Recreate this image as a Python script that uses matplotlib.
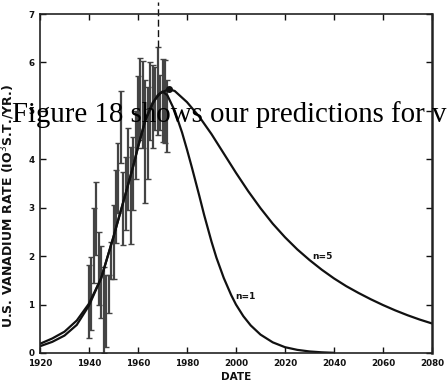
import numpy as np
import matplotlib
matplotlib.use('Agg')
import matplotlib.pyplot as plt

# production history, yearly error bars (low / high, 10^3 short tons per year)
bar_years = [1940, 1941, 1942, 1943, 1944, 1945, 1946, 1947, 1948, 1949,
             1950, 1951, 1952, 1953, 1954, 1955, 1956, 1957, 1958, 1959,
             1960, 1961, 1962, 1963, 1964, 1965, 1966, 1967, 1968, 1969,
             1970, 1971, 1972]
bar_low = [0.30, 0.47, 1.44, 2.02, 0.99, 0.72, 0.00, 0.13, 0.82, 1.53,
           1.52, 2.27, 2.90, 3.92, 2.23, 2.54, 2.95, 2.26, 2.95, 3.60,
           4.23, 4.40, 4.23, 3.10, 3.60, 4.40, 4.23, 4.60, 4.50, 4.60,
           4.36, 4.33, 4.16]
bar_high = [1.82, 1.99, 2.99, 3.54, 2.50, 2.21, 1.78, 1.61, 1.61, 2.30,
            3.06, 3.78, 4.33, 5.40, 3.74, 4.05, 4.64, 4.26, 4.47, 5.00,
            5.72, 6.10, 6.02, 5.64, 5.50, 6.00, 5.95, 5.90, 6.32, 5.75,
            6.08, 6.05, 5.64]

# fitted curves
n1_years = [1920, 1925, 1930, 1935, 1940, 1945, 1950, 1955, 1958, 1960,
            1963, 1966, 1968, 1970, 1972, 1975, 1978, 1980, 1982, 1985,
            1987, 1990, 1992, 1995, 1998, 2000, 2003, 2006, 2010, 2015,
            2020, 2025, 2030, 2035, 2040]
n1_rate = [0.14, 0.23, 0.36, 0.58, 0.98, 1.55, 2.40, 3.30, 3.85, 4.25,
           4.80, 5.15, 5.32, 5.40, 5.32, 5.00, 4.55, 4.20, 3.83, 3.25,
           2.85, 2.30, 1.97, 1.55, 1.20, 1.00, 0.76, 0.57, 0.38, 0.22,
           0.12, 0.065, 0.032, 0.014, 0.004]

n5_years = [1920, 1925, 1930, 1935, 1940, 1945, 1950, 1955, 1958, 1960,
            1963, 1966, 1969, 1972.5, 1975, 1980, 1985, 1990, 1995, 2000,
            2005, 2010, 2015, 2020, 2025, 2030, 2035, 2040, 2045, 2050,
            2055, 2060, 2065, 2070, 2075, 2080]
n5_rate = [0.19, 0.30, 0.44, 0.67, 1.02, 1.55, 2.40, 3.30, 3.85, 4.25,
           4.82, 5.17, 5.36, 5.45, 5.41, 5.18, 4.88, 4.52, 4.12, 3.72,
           3.34, 2.99, 2.67, 2.39, 2.14, 1.92, 1.72, 1.54, 1.38, 1.24,
           1.11, 0.99, 0.88, 0.78, 0.69, 0.61]

peak_year = 1972.5
peak_rate = 5.45

fig = plt.figure(figsize=(4.48, 3.87), dpi=100)
ax = fig.add_axes([40/448, 1 - 353/387, 392/448, 339/387])

ink = '#111111'
mid = (np.array(bar_low) + np.array(bar_high)) / 2
half = (np.array(bar_high) - np.array(bar_low)) / 2
ax.errorbar(bar_years, mid, yerr=half, fmt='none', ecolor='#444444',
            elinewidth=1.6, capsize=2.2, capthick=1.0)

ax.plot(n1_years, n1_rate, color=ink, lw=1.6, solid_capstyle='round',
        solid_joinstyle='round')
ax.plot(n5_years, n5_rate, color=ink, lw=1.6, solid_capstyle='round',
        solid_joinstyle='round')
ax.plot([peak_year], [peak_rate], 'o', color=ink, ms=4)

# dashed marker line above the 1968 bar
ax.plot([1968, 1968], [6.32, 7.25], color=ink, lw=1.0, ls=(0, (5, 2.5)),
        clip_on=False)

ax.text(2031, 1.95, 'n=5', fontsize=6.5, fontweight='bold', color=ink)
ax.text(1999.5, 1.12, 'n=1', fontsize=6.5, fontweight='bold', color=ink)

ax.set_xlim(1920, 2080)
ax.set_ylim(0, 7)
ax.set_xticks(range(1920, 2081, 20))
ax.set_yticks(range(0, 8))
ax.tick_params(direction='in', length=4, width=1.0, top=True, right=True,
               labelsize=6.3, pad=4, colors=ink)
for lab in ax.get_xticklabels() + ax.get_yticklabels():
    lab.set_fontweight('bold')
for s in ax.spines.values():
    s.set_linewidth(1.2)
    s.set_color('#222222')
ax.spines['right'].set_linewidth(1.8)

ax.set_xlabel('DATE', fontsize=7.5, fontweight='bold', labelpad=3, color=ink)
ax.set_ylabel('U.S. VANADIUM RATE (IO$^3$S.T./YR.)', fontsize=9,
              fontweight='bold', color=ink)
ax.yaxis.set_label_coords(-0.058, 0.434)

fig.text(12/448, 1 - 122/387, 'Figure 18 shows our predictions for v',
         family='Liberation Serif', fontsize=20.8, color='black')

fig.savefig('out.png', dpi=100)
